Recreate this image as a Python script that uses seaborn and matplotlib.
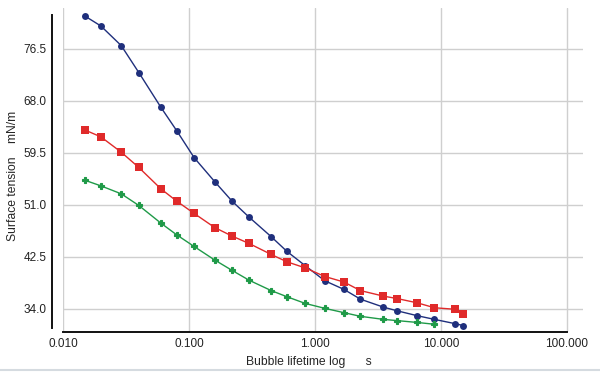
import numpy as np
import pandas as pd
import matplotlib
matplotlib.use("Agg")
import matplotlib.pyplot as plt
import seaborn as sns

# bubble lifetime (s)
lifetime = [0.015, 0.02, 0.029, 0.04, 0.06, 0.08, 0.11, 0.16, 0.22, 0.30, 0.45,
            0.6, 0.84, 1.2, 1.7, 2.3, 3.5, 4.5, 6.5, 8.9, 13.0, 15.0]

# surface tension (mN/m)
blue_vals = [81.8, 80.2, 77.0, 72.6, 66.9, 63.1, 58.7, 54.8, 51.6, 49.0, 45.8,
             43.4, 41.05, 38.6, 37.2, 35.6, 34.3, 33.7, 32.9, 32.3, 31.6, 31.3]
red_vals = [63.2, 62.1, 59.6, 57.1, 53.6, 51.6, 49.6, 47.3, 45.9, 44.7, 42.9,
            41.7, 40.7, 39.3, 38.4, 37.0, 36.1, 35.7, 35.0, 34.2, 33.95, 33.1]
green_vals = [55.0, 54.1, 52.8, 50.9, 48.0, 46.1, 44.2, 42.0, 40.3, 38.7, 37.0,
              36.0, 34.9, 34.1, 33.4, 32.8, 32.3, 32.1, 31.8, 31.5]

yticks = [34.0, 42.5, 51.0, 59.5, 68.0, 76.5]
xticks = [0.01, 0.1, 1, 10, 100]
xticklabels = ["0.010", "0.100", "1.000", "10.000", "100.000"]

sns.set_style("white")
plt.rcParams['font.family'] = ['Liberation Sans', 'DejaVu Sans']

fig = plt.figure(figsize=(6, 3.72), dpi=100)
ax = fig.add_axes([63/600, 1 - 332/372, 520/600, 324/372])

df_b = pd.DataFrame({'t': lifetime, 'st': blue_vals})
df_r = pd.DataFrame({'t': lifetime, 'st': red_vals})
df_g = pd.DataFrame({'t': lifetime[:len(green_vals)], 'st': green_vals})

sns.lineplot(data=df_b, x='t', y='st', ax=ax, color='#1f2f7c', marker='o',
             markersize=5, markeredgewidth=0, linewidth=1.0)
sns.lineplot(data=df_r, x='t', y='st', ax=ax, color='#e02a2a', marker='s',
             markersize=6, markeredgewidth=0, linewidth=1.0)
sns.lineplot(data=df_g, x='t', y='st', ax=ax, color='#1f9a48', marker='P',
             markersize=5, markeredgewidth=0.8, markeredgecolor='#1f9a48',
             linewidth=1.0)

ax.set_xscale('log')
ax.set_xlim(0.01, 134.6)
ax.set_ylim(30.24, 83.14)
ax.set_xticks(xticks)
ax.set_xticklabels(xticklabels)
ax.minorticks_off()
ax.set_yticks(yticks)
ax.set_yticklabels([f"{v:.1f}" for v in yticks])
ax.grid(True, color='#cfcfcf', linewidth=1.0)
ax.tick_params(axis='both', length=0, labelsize=8.5, colors='#222222', pad=4)

for s in ['top', 'right']:
    ax.spines[s].set_visible(False)
ax.spines['left'].set_position(('outward', 8))
ax.spines['left'].set_bounds(30.9, 82.0)
ax.spines['bottom'].set_bounds(0.01, 100)
for s in ['left', 'bottom']:
    ax.spines[s].set_color('#111111')
    ax.spines[s].set_linewidth(1.4)

ax.set_xlabel("Bubble lifetime log      s", fontsize=8.7)
ax.set_ylabel("Surface tension    mN/m", fontsize=8.7)
ax.xaxis.set_label_coords(0.472, -0.092)
ax.yaxis.set_label_coords(-0.096, 0.481)
ax.xaxis.label.set_va('center')
ax.yaxis.label.set_va('center')

# thin grey frame line along the bottom of the image
fig.add_artist(plt.Line2D([0, 1], [1 - 369.5/372] * 2, color='#d5dbe0', linewidth=1.5))

fig.savefig("out.png", dpi=100, facecolor='white')
